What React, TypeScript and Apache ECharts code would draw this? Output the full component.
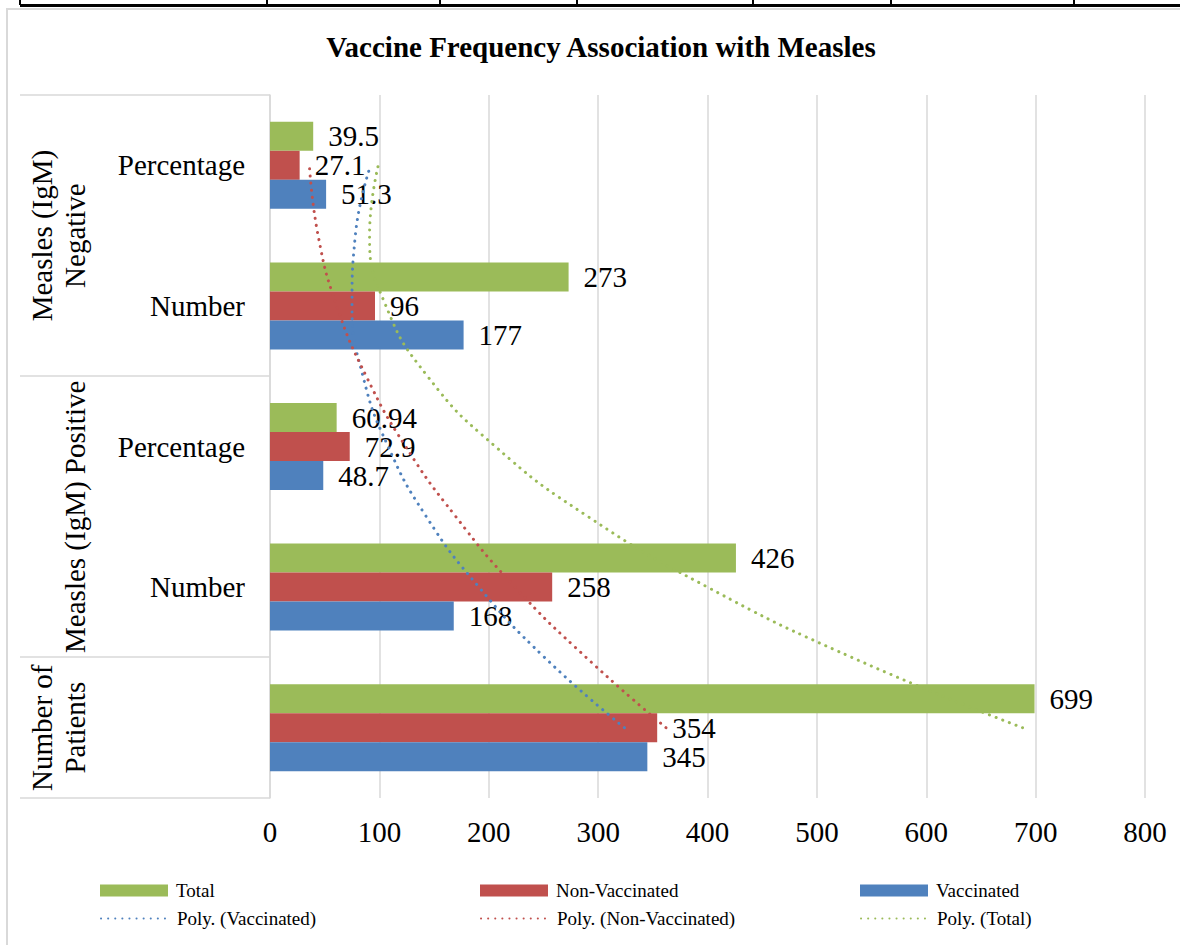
import React, { useEffect, useRef } from "react";
import * as echarts from "echarts";

// Category order from bottom to top (as on the chart)
const categories = [
  "Number of Patients",
  "Positive Number",
  "Positive Percentage",
  "Negative Number",
  "Negative Percentage",
];
const subLabels = ["", "Number", "Percentage", "Number", "Percentage"];

const vaccinated = [345, 168, 48.7, 177, 51.3];
const nonVaccinated = [354, 258, 72.9, 96, 27.1];
const total = [699, 426, 60.94, 273, 39.5];

// Dotted polynomial trend lines (position 1 = bottom category centre)
const trendPositions = [1, 1.5, 2, 2.5, 3, 3.5, 4, 4.5, 5];
const polyVaccinated = [324, 251, 191, 143, 108, 85, 75, 78, 92];
const polyNonVaccinated = [362, 289, 224, 170, 124, 88, 61, 44, 36];
const polyTotal = [688, 532, 400, 291, 206, 144, 106, 91, 99];

// Outer (group) labels: lines and their category-position centre
const groupLabels = [
  { lines: ["Measles (IgM)", "Negative"], center: 4.5 },
  { lines: ["Measles (IgM) Positive"], center: 2.5 },
  { lines: ["Number of", "Patients"], center: 1 },
];
const groupBoundaries = [0.5, 1.5, 3.5, 5.5];

const tableTicks = [20, 267, 440, 577, 753, 891, 1074];

const GREEN = "#9BBB59";
const RED = "#C0504D";
const BLUE = "#4F81BD";
const GRID = "#D9D9D9";
const FONT = "'Liberation Serif', 'Times New Roman', serif";
const FS = 29;

export default function App() {
  const ref = useRef<HTMLDivElement>(null);

  useEffect(() => {
    document.body.style.margin = "0";
    if (!ref.current) return;
    const chart = echarts.init(ref.current, undefined, { renderer: "svg" });

    const barLabel = {
      show: true,
      position: "right",
      distance: 15,
      color: "#000",
      fontSize: FS,
      fontFamily: FONT,
    };
    const dotted = (color: string) => ({
      color,
      width: 3,
      type: [0.1, 7],
      cap: "round",
    });
    const pair = (vals: number[]) => vals.map((v, i) => [v, trendPositions[i]]);

    const legendItem = (name: string, left: number, top: number) => ({
      data: [name],
      left,
      top,
      orient: "horizontal",
      itemWidth: 68,
      itemHeight: 12,
      selectedMode: false,
      textStyle: { fontFamily: FONT, fontSize: 19, color: "#000", padding: [0, 0, 0, 3] },
    });

    chart.setOption({
      animation: false,
      backgroundColor: "#fff",
      grid: { left: 270, right: 35, top: 95, bottom: 147, containLabel: false },
      xAxis: {
        type: "value",
        min: 0,
        max: 800,
        interval: 100,
        axisLine: { show: false },
        axisTick: { show: false },
        axisLabel: { fontSize: FS, fontFamily: FONT, color: "#000", margin: 19 },
        splitLine: { lineStyle: { color: GRID, width: 1.5 } },
      },
      yAxis: [
        {
          type: "category",
          data: categories,
          axisLine: { show: true, lineStyle: { color: GRID, width: 1.5 } },
          axisTick: { show: false },
          axisLabel: {
            fontSize: FS,
            fontFamily: FONT,
            color: "#000",
            margin: 25,
            formatter: (_v: string, i: number) => subLabels[i],
          },
          splitLine: { show: false },
        },
        {
          type: "value",
          min: 0.5,
          max: 5.5,
          show: false,
          splitLine: { show: false },
        },
      ],
      legend: [
        { ...legendItem("Total", 95, 876), icon: "rect" },
        { ...legendItem("Non-Vaccinated", 475, 876), icon: "rect" },
        { ...legendItem("Vaccinated", 855, 876), icon: "rect" },
        { ...legendItem("Poly. (Vaccinated)", 95, 904), itemStyle: { opacity: 0 } },
        { ...legendItem("Poly. (Non-Vaccinated)", 475, 904), itemStyle: { opacity: 0 } },
        { ...legendItem("Poly. (Total)", 855, 904), itemStyle: { opacity: 0 } },
      ],
      series: [
        {
          name: "Total",
          type: "bar",
          data: total,
          barWidth: 29,
          barGap: "0%",
          itemStyle: { color: GREEN },
          label: barLabel,
        },
        {
          name: "Non-Vaccinated",
          type: "bar",
          data: nonVaccinated,
          barWidth: 29,
          barGap: "0%",
          itemStyle: { color: RED },
          label: barLabel,
        },
        {
          name: "Vaccinated",
          type: "bar",
          data: vaccinated,
          barWidth: 29,
          barGap: "0%",
          itemStyle: { color: BLUE },
          label: barLabel,
        },
        {
          name: "Poly. (Vaccinated)",
          type: "line",
          yAxisIndex: 1,
          data: pair(polyVaccinated),
          smooth: true,
          showSymbol: false,
          symbol: "none",
          z: 5,
          itemStyle: { color: BLUE },
          lineStyle: dotted(BLUE),
        },
        {
          name: "Poly. (Non-Vaccinated)",
          type: "line",
          yAxisIndex: 1,
          data: pair(polyNonVaccinated),
          smooth: true,
          showSymbol: false,
          symbol: "none",
          z: 5,
          itemStyle: { color: RED },
          lineStyle: dotted(RED),
        },
        {
          name: "Poly. (Total)",
          type: "line",
          yAxisIndex: 1,
          data: pair(polyTotal),
          smooth: true,
          showSymbol: false,
          symbol: "none",
          z: 5,
          itemStyle: { color: GREEN },
          lineStyle: dotted(GREEN),
        },
      ],
    });

    const py = (pos: number) => chart.convertToPixel({ yAxisIndex: 1 }, pos) as number;
    const x0 = chart.convertToPixel({ xAxisIndex: 0 }, 0) as number;

    const graphics: any[] = [];
    // table border at very top
    graphics.push({
      type: "rect",
      shape: { x: tableTicks[0], y: 4, width: 1180 - tableTicks[0], height: 3 },
      style: { fill: "#000" },
      silent: true,
    });
    tableTicks.forEach((tx) =>
      graphics.push({
        type: "rect",
        shape: { x: tx - 1, y: 0, width: 2, height: 5 },
        style: { fill: "#000" },
        silent: true,
      })
    );
    // chart frame
    graphics.push({
      type: "polyline",
      shape: { points: [[7, 945], [7, 9], [1180, 9]] },
      style: { stroke: GRID, lineWidth: 2, fill: null },
      silent: true,
    });
    // title
    graphics.push({
      type: "text",
      x: 601,
      y: 47,
      style: {
        text: "Vaccine Frequency Association with Measles",
        fontFamily: FONT,
        fontWeight: "bold",
        fontSize: FS,
        fill: "#000",
        align: "center",
        verticalAlign: "middle",
      },
      silent: true,
    });
    // group separators in the label area
    groupBoundaries.forEach((b) => {
      const y = Math.round(py(b));
      graphics.push({
        type: "line",
        shape: { x1: 20, y1: y, x2: x0, y2: y },
        style: { stroke: GRID, lineWidth: 1.5 },
        silent: true,
      });
    });
    // rotated group labels
    groupLabels.forEach((g) => {
      const cy = py(g.center);
      const n = g.lines.length;
      g.lines.forEach((line, i) => {
        graphics.push({
          type: "text",
          x: 75 - 33 * (n - 1 - i),
          y: cy,
          rotation: Math.PI / 2,
          style: {
            text: line,
            fontFamily: FONT,
            fontSize: FS,
            fill: "#000",
            align: "center",
            verticalAlign: "middle",
          },
          silent: true,
        });
      });
    });

    chart.setOption({ graphic: graphics });

    return () => chart.dispose();
  }, []);

  return <div ref={ref} style={{ width: 1180, height: 945 }} />;
}
